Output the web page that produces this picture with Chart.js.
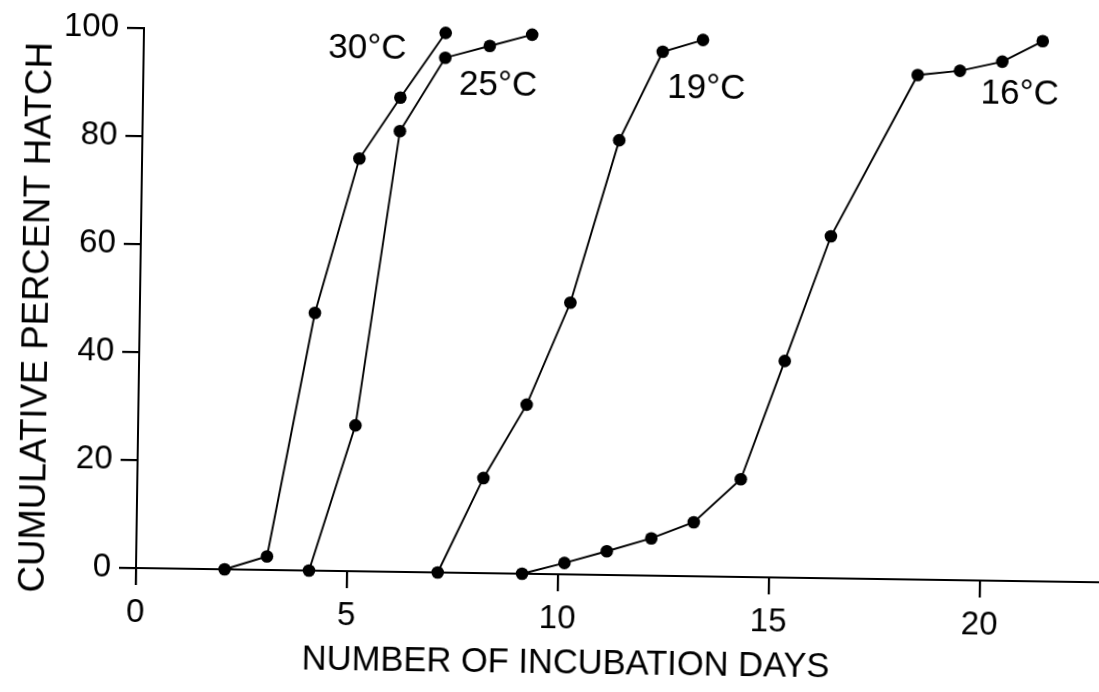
<!DOCTYPE html>
<html>
<head>
<meta charset="utf-8">
<title>Cumulative percent hatch</title>
<script src="https://cdn.jsdelivr.net/npm/chart.js@4/dist/chart.umd.min.js"></script>
<style>
  html, body { margin: 0; padding: 0; background: #fff; overflow: hidden; }
  #wrap { width: 1099px; height: 692px; position: relative; overflow: hidden; }
  /* the printed figure sits slightly skewed on the page */
  #c { position: absolute; left: 0; top: 0; transform: rotate(0.85deg); transform-origin: 136px 568px; }
</style>
</head>
<body>
<div id="wrap"><canvas id="c" width="1112" height="692"></canvas></div>
<script>
// Incubation day (x) and cumulative percent hatched (y) for each temperature
const days30  = [2.1, 3.1, 4.15, 5.15, 6.1, 7.15];
const hatch30 = [0, 2.5, 47.7, 76.4, 87.8, 99.9];

const days25  = [4.1, 5.15, 6.1, 7.15, 8.2, 9.2];
const hatch25 = [0, 27, 81.6, 95.3, 97.6, 99.8];

const days19  = [7.15, 8.2, 9.2, 10.2, 11.3, 12.3, 13.25];
const hatch19 = [0, 17.6, 31.3, 50.3, 80.5, 97, 99.3];

const days16  = [9.15, 10.15, 11.15, 12.2, 13.2, 14.3, 15.3, 16.35, 18.35, 19.35, 20.35, 21.3];
const hatch16 = [0, 2.1, 4.4, 6.9, 10, 18.1, 40.1, 63.3, 93.4, 94.3, 96.1, 100];

const seriesNames = ['30°C', '25°C', '19°C', '16°C'];

const xTickValues = [0, 5, 10, 15, 20];
const yTickValues = [0, 20, 40, 60, 80, 100];

const xTitle = 'NUMBER OF INCUBATION DAYS';
const yTitle = 'CUMULATIVE PERCENT HATCH';

// ---- styling ----
const ink = '#000';
const family = '"Liberation Sans", Arial, Helvetica, sans-serif';
const tickLen = 17;

function series(label, xs, ys) {
  return {
    label,
    data: xs.map((x, i) => ({ x, y: ys[i] })),
    borderColor: ink,
    backgroundColor: ink,
    borderWidth: 1.9,
    pointRadius: 6.3,
    pointHoverRadius: 6.3,
    pointBorderWidth: 0,
    pointBackgroundColor: ink,
    tension: 0,
    fill: false,
    clip: false
  };
}

// where each temperature label sits, relative to one of its curve's points
const labelPlacement = [
  { index: 5,  dx: -39, dy: 27, align: 'right' },
  { index: 3,  dx: 14,  dy: 37, align: 'left'  },
  { index: 5,  dx: 5,   dy: 46, align: 'left'  },
  { index: 11, dx: 17,  dy: 63, align: 'right' }
];

const annotate = {
  id: 'annotate',
  afterDatasetsDraw(chart) {
    const { ctx, chartArea } = chart;
    ctx.save();
    ctx.fillStyle = ink;
    ctx.textBaseline = 'alphabetic';

    // curve labels
    ctx.font = '35px ' + family;
    labelPlacement.forEach((p, i) => {
      const pt = chart.getDatasetMeta(i).data[p.index];
      ctx.textAlign = p.align;
      ctx.fillText(chart.data.datasets[i].label, pt.x + p.dx, pt.y + p.dy);
    });

    // x axis title
    ctx.font = '34.5px ' + family;
    ctx.textAlign = 'center';
    ctx.fillText(xTitle, chartArea.left + 431, chartArea.bottom + 99);

    // y axis title, reading upward
    ctx.font = '36.5px ' + family;
    ctx.translate(chartArea.left - 92, chartArea.top + 291);
    ctx.rotate(-Math.PI / 2);
    ctx.textAlign = 'center';
    ctx.fillText(yTitle, 0, 0);
    ctx.restore();
  }
};

function gridStyle() {
  return { display: true, drawOnChartArea: false, drawTicks: true, tickLength: tickLen, color: ink, lineWidth: 2.2 };
}
function tickStyle() {
  return { color: ink, font: { family, size: 33 }, padding: 8 };
}

new Chart(document.getElementById('c'), {
  type: 'line',
  data: {
    datasets: [
      series(seriesNames[0], days30, hatch30),
      series(seriesNames[1], days25, hatch25),
      series(seriesNames[2], days19, hatch19),
      series(seriesNames[3], days16, hatch16)
    ]
  },
  options: {
    responsive: false,
    animation: false,
    layout: { padding: { top: 24 } },
    plugins: { legend: { display: false }, tooltip: { enabled: false } },
    scales: {
      x: {
        type: 'linear',
        min: 0,
        max: 22.98,
        border: { display: true, color: ink, width: 2 },
        grid: gridStyle(),
        ticks: tickStyle(),
        afterBuildTicks: s => { s.ticks = xTickValues.map(v => ({ value: v })); },
        afterFit: s => { s.height = 124; }
      },
      y: {
        type: 'linear',
        min: 0,
        max: 100,
        border: { display: true, color: ink, width: 2 },
        grid: gridStyle(),
        ticks: tickStyle(),
        afterBuildTicks: s => { s.ticks = yTickValues.map(v => ({ value: v })); },
        afterFit: s => { s.width = 136; }
      }
    }
  },
  plugins: [annotate]
});
</script>
</body>
</html>
